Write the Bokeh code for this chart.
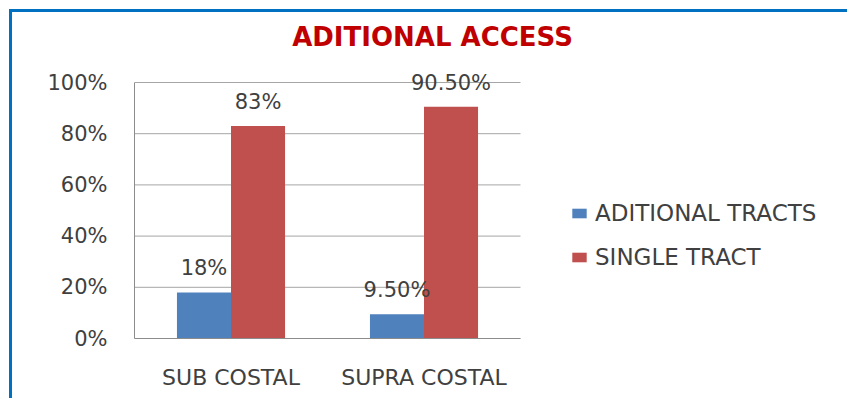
from bokeh.plotting import figure
from bokeh.models import ColumnDataSource, Legend, LegendItem, PrintfTickFormatter, FixedTicker, Range1d, Label
from bokeh.transform import dodge
from bokeh.core.properties import value
from bokeh.embed import file_html
from bokeh.resources import INLINE

title_text = "ADITIONAL ACCESS"
categories = ["SUB COSTAL", "SUPRA COSTAL"]
additional_tracts = [18, 9.5]
single_tract = [83, 90.5]
additional_labels = ["18%", "9.50%"]
single_labels = ["83%", "90.50%"]
y_ticks = [0, 20, 40, 60, 80, 100]

BLUE = "#4F81BD"
RED = "#C0504D"
TXT = "#404040"
FONT = "DejaVu Sans"

idx = list(range(len(categories)))
src = ColumnDataSource(dict(idx=idx, add=additional_tracts, single=single_tract,
                            add_lbl=additional_labels, single_lbl=single_labels))

# layout (pixels): frame spans the canvas above the x axis; value axis uses 256 px for 0..100
frame_w, frame_h = 716, 326
slot_px, axis_px = 193, 256
x_lo, x_hi = -0.5, len(categories) - 0.5
p = figure(x_range=Range1d(x_lo, x_lo + frame_w / slot_px),
           y_range=Range1d(0, y_ticks[-1] * frame_h / axis_px),
           width=838, height=389, output_backend="svg", toolbar_location=None,
           min_border_left=122, min_border_right=0, min_border_top=0, min_border_bottom=63)
p.title = None
p.styles = {"margin-left": "9px", "margin-top": "9px",
            "border-left": "3px solid #0070C0", "border-top": "3px solid #0070C0"}

p.add_layout(Label(x=298, y=302, x_units="screen", y_units="screen", text=title_text,
                   text_align="center", text_baseline="middle", text_font=FONT,
                   text_font_size="26px", text_font_style="bold", text_color="#C00000"))

# horizontal gridlines limited to the category area
gsrc = ColumnDataSource(dict(y=y_ticks, x0=[x_lo] * len(y_ticks), x1=[x_hi] * len(y_ticks)))
p.segment(x0="x0", y0="y", x1="x1", y1="y", source=gsrc, line_color="#A6A6A6",
          line_width=1, level="underlay")

r1 = p.vbar(x=dodge("idx", -0.14), top="add", width=0.28, source=src,
            fill_color=BLUE, line_color=None)
r2 = p.vbar(x=dodge("idx", 0.14), top="single", width=0.28, source=src,
            fill_color=RED, line_color=None)

p.text(x=dodge("idx", -0.14), y="add", text="add_lbl", source=src,
       text_align="center", text_baseline="bottom", y_offset=-12,
       text_font=value(FONT), text_font_size="21px", text_color=TXT)
p.text(x=dodge("idx", 0.14), y="single", text="single_lbl", source=src,
       text_align="center", text_baseline="bottom", y_offset=-12,
       text_font=value(FONT), text_font_size="21px", text_color=TXT)

p.yaxis.ticker = FixedTicker(ticks=y_ticks)
p.yaxis.bounds = (y_ticks[0], y_ticks[-1])
p.yaxis.formatter = PrintfTickFormatter(format="%d%%")
p.yaxis.major_tick_line_color = None
p.yaxis.minor_tick_line_color = None
p.yaxis.major_tick_out = 0
p.yaxis.major_label_standoff = 27
p.yaxis.axis_line_color = "#8C8C8C"
p.yaxis.major_label_text_font = FONT
p.yaxis.major_label_text_font_size = "21px"
p.yaxis.major_label_text_color = TXT

p.xaxis.ticker = FixedTicker(ticks=idx)
p.xaxis.major_label_overrides = {i: c for i, c in zip(idx, categories)}
p.xaxis.bounds = (x_lo, x_hi)
p.xaxis.major_tick_line_color = None
p.xaxis.minor_tick_line_color = None
p.xaxis.major_tick_out = 0
p.xaxis.major_label_standoff = 26
p.xaxis.axis_line_color = "#8C8C8C"
p.xaxis.major_label_text_font = FONT
p.xaxis.major_label_text_font_size = "22px"
p.xaxis.major_label_text_color = TXT

p.xgrid.grid_line_color = None
p.ygrid.grid_line_color = None
p.outline_line_color = None

legend = Legend(items=[LegendItem(label="ADITIONAL TRACTS", renderers=[r1]),
                       LegendItem(label="SINGLE TRACT", renderers=[r2])],
                location=(436, 68), orientation="vertical",
                border_line_color=None, background_fill_alpha=0,
                padding=0, margin=0, glyph_width=18, glyph_height=12,
                label_standoff=7, spacing=18, label_height=24,
                label_text_font=FONT, label_text_font_size="23px", label_text_color=TXT)
p.add_layout(legend, "center")

open("out.html", "w").write(file_html(p, INLINE))
